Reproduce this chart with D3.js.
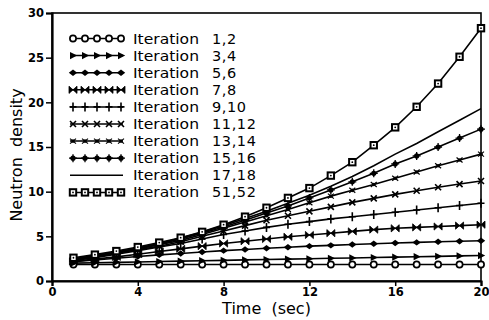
<!DOCTYPE html>
<html>
<head>
<meta charset="utf-8">
<script src="https://cdn.jsdelivr.net/npm/d3@7"></script>
<style>
  body { margin: 0; background: #fff; }
  svg { display: block; }
  text { font-family: "DejaVu Sans", sans-serif; fill: #000; }
</style>
</head>
<body>
<div id="chart"></div>
<script>
// time points (sec)
const times = [1, 2, 3, 4, 5, 6, 7, 8, 9, 10, 11, 12, 13, 14, 15, 16, 17, 18, 19, 20];

// neutron density per iteration pair
const iter1_2   = [1.85, 1.85, 1.85, 1.85, 1.85, 1.85, 1.85, 1.85, 1.85, 1.85, 1.85, 1.85, 1.85, 1.85, 1.85, 1.85, 1.85, 1.85, 1.85, 1.85];
const iter3_4   = [2.0, 2.04, 2.09, 2.13, 2.18, 2.22, 2.27, 2.31, 2.36, 2.4, 2.45, 2.49, 2.54, 2.58, 2.63, 2.67, 2.72, 2.76, 2.81, 2.85];
const iter5_6   = [2.15, 2.35, 2.55, 2.75, 2.92, 3.08, 3.24, 3.4, 3.53, 3.66, 3.78, 3.9, 3.99, 4.08, 4.17, 4.25, 4.32, 4.39, 4.45, 4.5];
const iter7_8   = [2.2, 2.45, 2.7, 3.0, 3.3, 3.6, 3.9, 4.2, 4.45, 4.7, 4.95, 5.15, 5.35, 5.55, 5.75, 5.9, 6.0, 6.1, 6.2, 6.3];
const iter9_10  = [2.3, 2.6, 3.0, 3.4, 3.8, 4.2, 4.7, 5.2, 5.6, 6.0, 6.35, 6.65, 6.95, 7.2, 7.45, 7.7, 7.95, 8.2, 8.45, 8.7];
const iter11_12 = [2.35, 2.7, 3.1, 3.5, 3.9, 4.4, 5.0, 5.6, 6.2, 6.8, 7.3, 7.8, 8.3, 8.8, 9.25, 9.7, 10.1, 10.5, 10.85, 11.2];
const iter13_14 = [2.4, 2.75, 3.15, 3.6, 4.05, 4.55, 5.2, 5.9, 6.6, 7.3, 8.0, 8.75, 9.5, 10.15, 10.8, 11.5, 12.2, 12.9, 13.55, 14.2];
const iter15_16 = [2.45, 2.8, 3.2, 3.65, 4.15, 4.7, 5.35, 6.05, 6.8, 7.6, 8.4, 9.3, 10.2, 11.1, 12.05, 13.1, 14.0, 15.0, 16.0, 17.0];
const iter17_18 = [2.5, 2.85, 3.25, 3.7, 4.2, 4.8, 5.45, 6.2, 7.0, 7.8, 8.7, 9.6, 10.6, 11.7, 12.9, 14.2, 15.4, 16.7, 18.0, 19.3];
const iter51_52 = [2.6, 2.95, 3.35, 3.8, 4.3, 4.85, 5.5, 6.3, 7.2, 8.2, 9.3, 10.4, 11.8, 13.3, 15.2, 17.2, 19.5, 22.1, 25.1, 28.3];

const seriesLabels = ["1,2", "3,4", "5,6", "7,8", "9,10", "11,12", "13,14", "15,16", "17,18", "51,52"];
const seriesValues = [iter1_2, iter3_4, iter5_6, iter7_8, iter9_10, iter11_12, iter13_14, iter15_16, iter17_18, iter51_52];
const seriesMarkers = ["circle", "triangle", "diamond", "bowtie", "plus", "cross", "star", "dotplus", "none", "square"];

const xTicks = [0, 4, 8, 12, 16, 20];
const yTicks = [0, 5, 10, 15, 20, 25, 30];

const width = 489, height = 320;
const margin = { top: 13, right: 8, bottom: 39, left: 52 };

const svg = d3.select("#chart").append("svg")
  .attr("width", width)
  .attr("height", height);

const x = d3.scaleLinear().domain([0, 20]).range([margin.left, width - margin.right]);
const y = d3.scaleLinear().domain([0, 30]).range([height - margin.bottom, margin.top]);

// draws one marker glyph centred on 0,0
function drawMarker(g, type) {
  switch (type) {
    case "circle":
      g.append("circle").attr("r", 3.1).attr("fill", "#fff").attr("stroke", "#000").attr("stroke-width", 1.7);
      break;
    case "triangle":
      g.append("path").attr("d", "M-3,-3.6L4.2,0L-3,3.6Z").attr("fill", "#000");
      break;
    case "diamond":
      g.append("path").attr("d", "M-4.2,0L0,-3.2L4.2,0L0,3.2Z").attr("fill", "#000");
      break;
    case "bowtie":
      g.append("path").attr("d", "M-4,-3.6L4,3.6L4,-3.6L-4,3.6Z").attr("fill", "#000").attr("stroke", "#000").attr("stroke-width", 0.8);
      break;
    case "plus":
      g.append("path").attr("d", "M-3.5,0H3.5M0,-4.5V4.5").attr("stroke", "#000").attr("stroke-width", 1.6);
      break;
    case "cross":
      g.append("path").attr("d", "M-3,-3L3,3M-3,3L3,-3").attr("stroke", "#000").attr("stroke-width", 1.6);
      break;
    case "star":
      g.append("circle").attr("r", 1.8).attr("fill", "#000");
      g.append("path").attr("d", "M-3,-2.5L3,2.5M-3,2.5L3,-2.5").attr("stroke", "#000").attr("stroke-width", 1.2);
      break;
    case "dotplus":
      g.append("circle").attr("r", 2.6).attr("fill", "#000");
      g.append("path").attr("d", "M-4,0H4M0,-4V4").attr("stroke", "#000").attr("stroke-width", 1.3);
      break;
    case "square":
      g.append("rect").attr("x", -3.2).attr("y", -3.2).attr("width", 6.4).attr("height", 6.4)
        .attr("fill", "#fff").attr("stroke", "#000").attr("stroke-width", 2);
      g.append("circle").attr("r", 0.9).attr("fill", "#000");
      break;
  }
}

// frame
svg.append("rect")
  .attr("x", x(0)).attr("y", y(30))
  .attr("width", x(20) - x(0)).attr("height", y(0) - y(30))
  .attr("fill", "none").attr("stroke", "#000").attr("stroke-width", 1.6);

// axes
const xAxis = svg.append("g")
  .attr("transform", `translate(0,${y(0)})`)
  .call(d3.axisBottom(x).tickValues(xTicks).tickSize(5).tickPadding(2));
const yAxis = svg.append("g")
  .attr("transform", `translate(${x(0)},0)`)
  .call(d3.axisLeft(y).tickValues(yTicks).tickSize(6).tickPadding(2));

[xAxis, yAxis].forEach(ax => {
  ax.select(".domain").attr("stroke", "#000").attr("stroke-width", 2.2);
  ax.selectAll(".tick line").attr("stroke", "#000").attr("stroke-width", 1.5);
  ax.selectAll(".tick text")
    .style("font-family", "DejaVu Sans, sans-serif")
    .style("font-size", "11.5px")
    .style("font-weight", "bold")
    .attr("fill", "#000");
});

// series
const line = d3.line()
  .x((d, i) => x(times[i]))
  .y(d => y(d));

seriesValues.forEach((vals, k) => {
  svg.append("path")
    .datum(vals)
    .attr("d", line)
    .attr("fill", "none")
    .attr("stroke", "#000")
    .attr("stroke-width", 1.6);
});

seriesValues.forEach((vals, k) => {
  if (seriesMarkers[k] === "none") return;
  svg.append("g").selectAll("g")
    .data(vals)
    .join("g")
    .attr("transform", (d, i) => `translate(${x(times[i])},${y(d)})`)
    .each(function () { drawMarker(d3.select(this), seriesMarkers[k]); });
});

// legend
const legendTop = 38.5, legendStep = 17.1;
const legendMarkX = [73, 85, 97, 109, 121];
seriesLabels.forEach((lab, k) => {
  const ly = legendTop + k * legendStep;
  const lg = svg.append("g").attr("transform", `translate(0,${ly})`);
  lg.append("line")
    .attr("x1", 70).attr("x2", 123)
    .attr("stroke", "#000").attr("stroke-width", 1.5);
  if (seriesMarkers[k] !== "none") {
    legendMarkX.forEach(mx => {
      drawMarker(lg.append("g").attr("transform", `translate(${mx},0)`), seriesMarkers[k]);
    });
  }
  lg.append("text")
    .attr("x", 133).attr("y", 5)
    .attr("textLength", 66)
    .attr("lengthAdjust", "spacingAndGlyphs")
    .style("font-size", "14.5px")
    .text("Iteration");
  lg.append("text")
    .attr("x", 212).attr("y", 5)
    .style("font-size", "14.5px")
    .style("letter-spacing", "0.6px")
    .text(lab);
});

// axis titles
svg.append("text")
  .attr("x", (x(0) + x(20)) / 2)
  .attr("y", 314)
  .attr("text-anchor", "middle")
  .style("font-size", "16px")
  .style("white-space", "pre")
  .text("Time  (sec)");

svg.append("text")
  .attr("transform", `translate(22,155) rotate(-90)`)
  .attr("text-anchor", "middle")
  .style("font-size", "16px")
  .style("white-space", "pre")
  .text("Neutron  density");
</script>
</body>
</html>
